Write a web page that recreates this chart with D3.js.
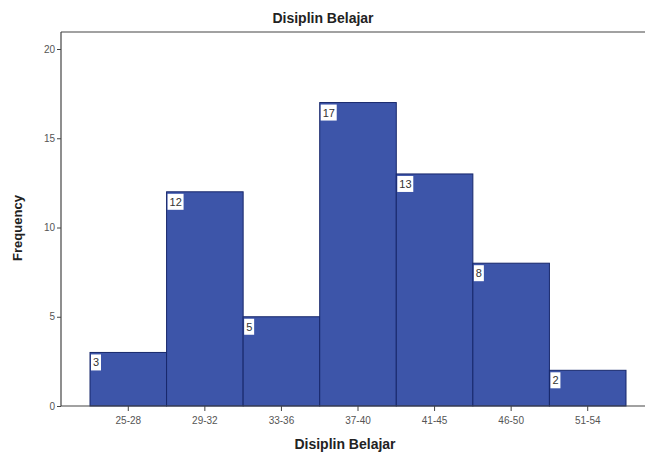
<!DOCTYPE html>
<html>
<head>
<meta charset="utf-8">
<script src="https://cdn.jsdelivr.net/npm/d3@7"></script>
<style>
  body { margin: 0; background: #fff; }
  svg { display: block; }
  .axis text { fill: #555; font-family: "Liberation Sans", Arial, sans-serif; font-size: 10px; }
  .axis path, .axis line { stroke: #444; }
</style>
</head>
<body>
<div id="chart"></div>
<script>
var categories = ["25-28", "29-32", "33-36", "37-40", "41-45", "46-50", "51-54"]
var frequency = [3, 12, 5, 17, 13, 8, 2]
var yTicks = [0, 5, 10, 15, 20]

var width = 645
var height = 459
var margin = {top: 32, left: 61, bottom: 406}

var svg = d3.select("#chart").append("svg")
  .attr("width", width)
  .attr("height", height)

var x = d3.scaleBand()
  .domain(categories)
  .range([90, 626])
  .padding(0)

var y = d3.scaleLinear()
  .domain([0, 20])
  .range([margin.bottom, 49])

// frame top line
svg.append("line")
  .attr("x1", margin.left).attr("x2", width)
  .attr("y1", margin.top).attr("y2", margin.top)
  .attr("stroke", "#444").attr("stroke-width", 1.2)

// bars
svg.append("g")
  .selectAll("rect")
  .data(frequency)
  .join("rect")
    .attr("x", (d, i) => x(categories[i]))
    .attr("y", d => y(d))
    .attr("width", x.bandwidth())
    .attr("height", d => y(0) - y(d))
    .attr("fill", "#3d55a9")
    .attr("stroke", "#17276b")
    .attr("stroke-width", 1)

// value labels
var labels = svg.append("g")
  .selectAll("g")
  .data(frequency)
  .join("g")
    .attr("transform", (d, i) => `translate(${x(categories[i]) + 1},${y(d) + 2})`)

labels.append("rect")
  .attr("width", d => d >= 10 ? 16 : 10)
  .attr("height", 16)
  .attr("fill", "#fff")

labels.append("text")
  .attr("x", 2)
  .attr("y", 12)
  .attr("font-family", "Liberation Sans, Arial, sans-serif")
  .attr("font-size", 11)
  .attr("fill", "#333")
  .text(d => d)

// axes
svg.append("g")
  .attr("class", "axis")
  .attr("transform", `translate(0,${margin.bottom})`)
  .call(d3.axisBottom(x).tickSize(5).tickPadding(6))
  .call(g => g.select(".domain").remove())

svg.append("line")
  .attr("x1", margin.left).attr("x2", width)
  .attr("y1", margin.bottom).attr("y2", margin.bottom)
  .attr("stroke", "#444").attr("stroke-width", 1.2)

svg.append("g")
  .attr("class", "axis")
  .attr("transform", `translate(${margin.left},0)`)
  .call(d3.axisLeft(y).tickValues(yTicks).tickSize(4).tickPadding(2))
  .call(g => g.select(".domain").remove())

svg.append("line")
  .attr("x1", margin.left).attr("x2", margin.left)
  .attr("y1", margin.top).attr("y2", margin.bottom)
  .attr("stroke", "#444").attr("stroke-width", 1.2)

// titles
svg.append("text")
  .attr("x", 323).attr("y", 23)
  .attr("text-anchor", "middle")
  .attr("font-family", "Liberation Sans, Arial, sans-serif")
  .attr("font-weight", "bold")
  .attr("font-size", 14)
  .attr("fill", "#222")
  .text("Disiplin Belajar")

svg.append("text")
  .attr("x", 345).attr("y", 449)
  .attr("text-anchor", "middle")
  .attr("font-family", "Liberation Sans, Arial, sans-serif")
  .attr("font-weight", "bold")
  .attr("font-size", 14)
  .attr("fill", "#222")
  .text("Disiplin Belajar")

svg.append("text")
  .attr("transform", "translate(22,228) rotate(-90)")
  .attr("text-anchor", "middle")
  .attr("font-family", "Liberation Sans, Arial, sans-serif")
  .attr("font-weight", "bold")
  .attr("font-size", 13)
  .attr("fill", "#222")
  .text("Frequency")
</script>
</body>
</html>
